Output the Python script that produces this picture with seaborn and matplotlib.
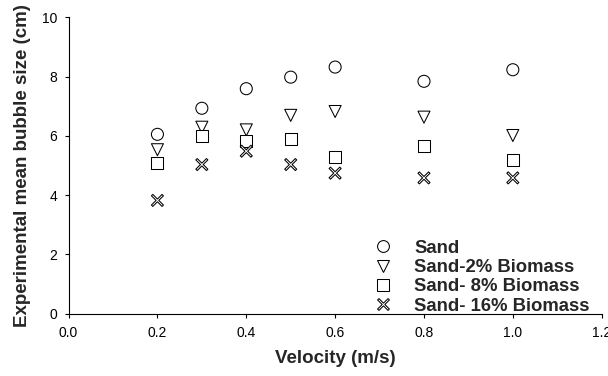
import pandas as pd
import numpy as np
import matplotlib.pyplot as plt
from matplotlib.path import Path
import seaborn as sns

velocity = [0.2, 0.3, 0.4, 0.5, 0.6, 0.8, 1.0]
sand = [6.05, 6.93, 7.59, 7.98, 8.32, 7.84, 8.23]
sand_2 = [5.53, 6.29, 6.20, 6.69, 6.82, 6.63, 6.01]
sand_8 = [5.08, 5.99, 5.84, 5.88, 5.28, 5.64, 5.17]
sand_16 = [3.82, 5.03, 5.48, 5.03, 4.74, 4.58, 4.58]
labels = ['Sand', 'Sand-2% Biomass', 'Sand- 8% Biomass', 'Sand- 16% Biomass']

df = pd.DataFrame({'v': velocity * 4,
                   'd': sand + sand_2 + sand_8 + sand_16,
                   'series': np.repeat(labels, len(velocity))})

# thin outlined "x" marker (plus shape turned 45 degrees)
t = 0.13
plus = np.array([(t, t), (t, 1), (-t, 1), (-t, t), (-1, t), (-1, -t),
                 (-t, -t), (-t, -1), (t, -1), (t, -t), (1, -t), (1, t), (t, t)])
rot = np.array([[np.cos(np.pi / 4), -np.sin(np.pi / 4)],
                [np.sin(np.pi / 4), np.cos(np.pi / 4)]])
xmark = Path(plus @ rot.T, closed=True)

sns.set_style('ticks')
plt.rcParams['font.family'] = ['Liberation Sans', 'DejaVu Sans']

fig = plt.figure(figsize=(6.08, 3.76), dpi=100)
ax = fig.add_axes([0.1128, 0.166, 0.8768, 0.788])

markers = {labels[0]: 'o', labels[1]: 'v', labels[2]: 's', labels[3]: xmark}
sns.scatterplot(data=df, x='v', y='d', style='series', markers=markers,
                s=75, facecolor='white', edgecolor='black', linewidth=0.75,
                color='white', ax=ax, legend=True)

ax.set_xlim(0, 1.2)
ax.set_ylim(0, 10)
ax.set_xticks([0.0, 0.2, 0.4, 0.6, 0.8, 1.0, 1.2])
ax.set_xticklabels(['0.0', '0.2', '0.4', '0.6', '0.8', '1.0', '1.2'])
ax.set_yticks([0, 2, 4, 6, 8, 10])
ax.tick_params(labelsize=10, direction='out', length=3, width=0.8, colors='black')
ax.tick_params(axis='x', pad=6)
ax.tick_params(axis='y', pad=5)
ax.set_xlabel('Velocity (m/s)', fontsize=13.5, fontweight='bold', labelpad=7)
ax.set_ylabel('Experimental mean bubble size (cm)', fontsize=13.5, fontweight='bold',
              labelpad=8)
sns.despine(ax=ax)
for sp in ['left', 'bottom']:
    ax.spines[sp].set_linewidth(0.8)
    ax.spines[sp].set_color('black')

handles, lbls = ax.get_legend_handles_labels()
for h in handles:
    h.set_markerfacecolor('white')
    h.set_markeredgecolor('black')
    h.set_markersize(8.5)
ax.legend(handles, lbls, loc='upper left', bbox_to_anchor=(0.6145, 0.362),
          bbox_transform=fig.transFigure, borderaxespad=0, borderpad=0,
          frameon=False, prop={'weight': 'bold', 'size': 13.3},
          handlelength=1.0, handletextpad=1.2, labelspacing=0.12)

plt.savefig('out.png', dpi=100)
